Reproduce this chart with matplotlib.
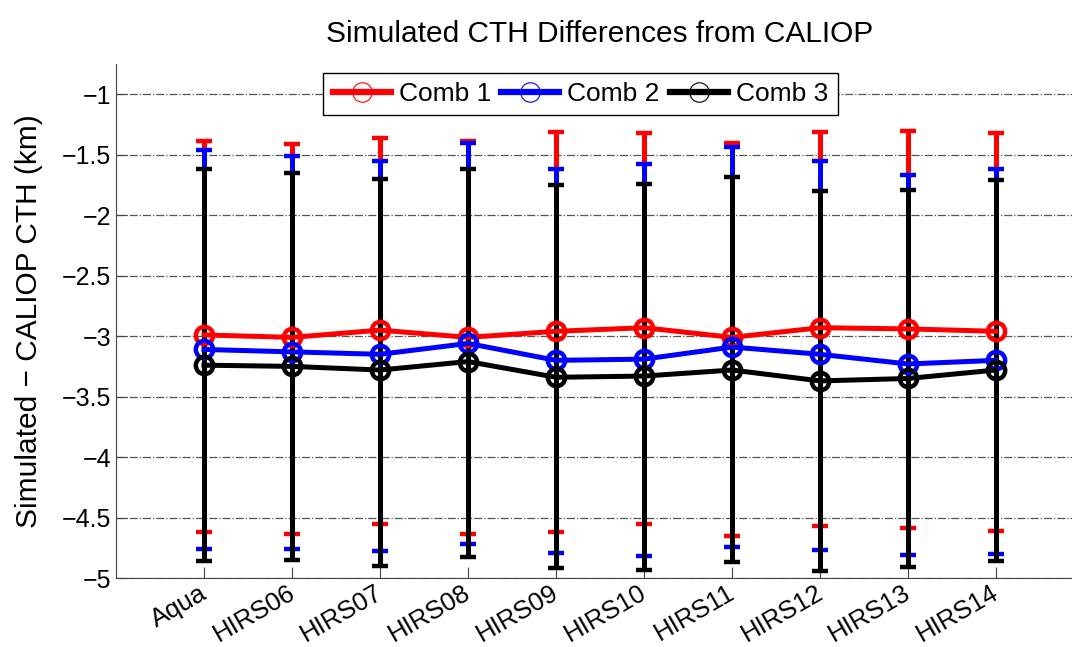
import matplotlib
matplotlib.use("Agg")
import matplotlib.pyplot as plt
import matplotlib.transforms as mtransforms
from matplotlib.lines import Line2D

plt.rcParams['font.family'] = ['Liberation Sans', 'DejaVu Sans']

sensors = ["Aqua", "HIRS06", "HIRS07", "HIRS08", "HIRS09",
           "HIRS10", "HIRS11", "HIRS12", "HIRS13", "HIRS14"]

# mean difference (km)
comb1_mean = [-2.99, -3.01, -2.95, -3.01, -2.96, -2.93, -3.01, -2.93, -2.94, -2.96]
comb2_mean = [-3.11, -3.13, -3.15, -3.06, -3.20, -3.19, -3.09, -3.15, -3.23, -3.20]
comb3_mean = [-3.24, -3.25, -3.28, -3.21, -3.34, -3.33, -3.28, -3.37, -3.35, -3.28]

# error bar ends (km)
comb1_top = [-1.39, -1.41, -1.36, -1.39, -1.31, -1.32, -1.40, -1.31, -1.30, -1.32]
comb2_top = [-1.46, -1.51, -1.55, -1.40, -1.62, -1.58, -1.44, -1.55, -1.67, -1.62]
comb3_top = [-1.62, -1.65, -1.70, -1.62, -1.75, -1.74, -1.68, -1.80, -1.79, -1.71]
comb1_bot = [-4.62, -4.64, -4.55, -4.64, -4.62, -4.55, -4.65, -4.57, -4.59, -4.61]
comb2_bot = [-4.76, -4.76, -4.78, -4.72, -4.79, -4.82, -4.74, -4.77, -4.81, -4.80]
comb3_bot = [-4.86, -4.85, -4.90, -4.83, -4.92, -4.93, -4.87, -4.94, -4.91, -4.86]

x = list(range(1, len(sensors) + 1))

fig = plt.figure(figsize=(10.72, 6.47), dpi=100)
ax = fig.add_axes([0.1082, 0.1066, 0.903, 0.7944])

series = [
    (comb1_mean, comb1_bot, comb1_top, "red", "Comb 1"),
    (comb2_mean, comb2_bot, comb2_top, "blue", "Comb 2"),
    (comb3_mean, comb3_bot, comb3_top, "black", "Comb 3"),
]

handles = []
for mean, bot, top, col, lab in series:
    lower = [m - b for m, b in zip(mean, bot)]
    upper = [t - m for m, t in zip(mean, top)]
    ax.errorbar(x, mean, yerr=[lower, upper], color=col, lw=3.6,
                elinewidth=3.6, capsize=6, capthick=3.6,
                marker="o", ms=12.5, mfc="none", mec=col, mew=3.2)
    handles.append(Line2D([], [], color=col, lw=4.5, marker="o", ms=14,
                          mfc="none", mec=col, mew=0.8, label=lab))

ax.set_xlim(0, 11)
ax.set_ylim(-5, -0.75)
ax.set_yticks([-5, -4.5, -4, -3.5, -3, -2.5, -2, -1.5, -1])
ax.set_yticklabels(["\u22125", "\u22124.5", "\u22124", "\u22123.5", "\u22123",
                    "\u22122.5", "\u22122", "\u22121.5", "\u22121"])
ax.set_xticks(x)
ax.set_xticklabels(sensors, rotation=30, ha="right", rotation_mode="anchor")
ax.tick_params(direction="in", length=8, width=0.8, labelsize=18, colors="#444444",
               labelcolor="black")
ax.tick_params(axis="x", labelsize=18.5, pad=2)
shift = mtransforms.ScaledTranslation(-5 / 100, 0, fig.dpi_scale_trans)
for lbl in ax.get_xticklabels():
    lbl.set_transform(lbl.get_transform() + shift)
ax.yaxis.grid(True, linestyle="-.", color="#555555", lw=0.9)
ax.set_axisbelow(True)
for s in ["top", "right"]:
    ax.spines[s].set_visible(False)
for s in ["left", "bottom"]:
    ax.spines[s].set_color("#444444")

ax.set_ylabel("Simulated \u2212 CALIOP CTH (km)", fontsize=21.5)
ax.yaxis.set_label_coords(-0.075, 0.5)
fig.text(0.559, 1 - 42 / 647, "Simulated CTH Differences from CALIOP",
         fontsize=21.5, ha="center", va="baseline")

leg = ax.legend(handles=handles, loc="upper center", ncol=3, fontsize=19,
                bbox_to_anchor=(0.5415, 1 - 73 / 647), bbox_transform=fig.transFigure,
                frameon=True, fancybox=False, framealpha=1, edgecolor="black",
                handlelength=2.2, handletextpad=0.3, columnspacing=0.4,
                borderpad=0.35, borderaxespad=0)
leg.get_frame().set_linewidth(1.0)

plt.savefig("out.png", dpi=100)
